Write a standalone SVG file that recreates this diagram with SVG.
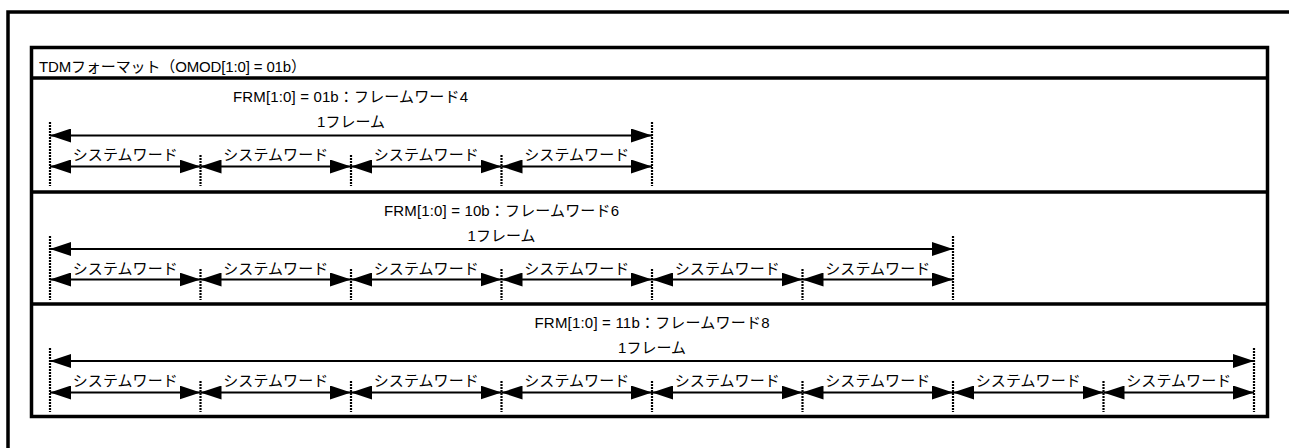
<svg xmlns="http://www.w3.org/2000/svg" width="1289" height="448" viewBox="0 0 1289 448">
<defs>
<style>
text{font-family:"Liberation Sans","Noto Sans CJK JP",sans-serif;font-size:15px;fill:#000}
.frame{fill:none;stroke:#000;stroke-width:3.5}
.sep{stroke:#000;stroke-width:3.5}
.dim{stroke:#000;stroke-width:1.8;marker-start:url(#ah);marker-end:url(#ah)}
.dash{stroke:#000;stroke-width:2.2;stroke-dasharray:2 1}
</style>
<marker id="ah" viewBox="0 0 21 14" refX="21" refY="7" markerWidth="21" markerHeight="14" markerUnits="userSpaceOnUse" orient="auto-start-reverse">
<path d="M0,0 L21,7 L0,14 z" fill="#000"/>
</marker>
</defs>
<rect x="0" y="0" width="1289" height="448" fill="#fff"/>
<g id="outer">
<rect class="frame" x="8" y="12" width="1320" height="500"/>
</g>
<g id="table">
<rect class="frame" x="31.5" y="47.5" width="1236" height="369"/>
<line class="sep" x1="31" y1="78" x2="1268" y2="78"/>
<line class="sep" x1="31" y1="192" x2="1268" y2="192"/>
<line class="sep" x1="31" y1="304" x2="1268" y2="304"/>
</g>
<g id="title">
<text x="39" y="72" textLength="267" lengthAdjust="spacing">TDMフォーマット（OMOD[1:0] = 01b）</text>
</g>
<g id="row1">
<text x="233" y="102" textLength="235" lengthAdjust="spacing">FRM[1:0] = 01b：フレームワード4</text>
<text x="351" y="127" text-anchor="middle">1フレーム</text>
<text x="125.25" y="160" text-anchor="middle" textLength="105" lengthAdjust="spacing">システムワード</text>
<text x="275.75" y="160" text-anchor="middle" textLength="105" lengthAdjust="spacing">システムワード</text>
<text x="426.25" y="160" text-anchor="middle" textLength="105" lengthAdjust="spacing">システムワード</text>
<text x="576.75" y="160" text-anchor="middle" textLength="105" lengthAdjust="spacing">システムワード</text>
<line class="dash" x1="50" y1="122" x2="50" y2="186"/>
<line class="dash" x1="652" y1="122" x2="652" y2="186"/>
<line class="dash" x1="200.5" y1="155" x2="200.5" y2="186"/>
<line class="dash" x1="351" y1="155" x2="351" y2="186"/>
<line class="dash" x1="501.5" y1="155" x2="501.5" y2="186"/>
</g>
<g id="row2">
<text x="501.5" y="216" text-anchor="middle" textLength="235" lengthAdjust="spacing">FRM[1:0] = 10b：フレームワード6</text>
<text x="501.5" y="241" text-anchor="middle">1フレーム</text>
<text x="125.25" y="274" text-anchor="middle" textLength="105" lengthAdjust="spacing">システムワード</text>
<text x="275.75" y="274" text-anchor="middle" textLength="105" lengthAdjust="spacing">システムワード</text>
<text x="426.25" y="274" text-anchor="middle" textLength="105" lengthAdjust="spacing">システムワード</text>
<text x="576.75" y="274" text-anchor="middle" textLength="105" lengthAdjust="spacing">システムワード</text>
<text x="727.25" y="274" text-anchor="middle" textLength="105" lengthAdjust="spacing">システムワード</text>
<text x="877.75" y="274" text-anchor="middle" textLength="105" lengthAdjust="spacing">システムワード</text>
<line class="dash" x1="50" y1="236" x2="50" y2="300"/>
<line class="dash" x1="953" y1="236" x2="953" y2="300"/>
<line class="dash" x1="200.5" y1="269" x2="200.5" y2="300"/>
<line class="dash" x1="351" y1="269" x2="351" y2="300"/>
<line class="dash" x1="501.5" y1="269" x2="501.5" y2="300"/>
<line class="dash" x1="652" y1="269" x2="652" y2="300"/>
<line class="dash" x1="802.5" y1="269" x2="802.5" y2="300"/>
</g>
<g id="row3">
<text x="652" y="328" text-anchor="middle" textLength="235" lengthAdjust="spacing">FRM[1:0] = 11b：フレームワード8</text>
<text x="652" y="353" text-anchor="middle">1フレーム</text>
<text x="125.25" y="386" text-anchor="middle" textLength="105" lengthAdjust="spacing">システムワード</text>
<text x="275.75" y="386" text-anchor="middle" textLength="105" lengthAdjust="spacing">システムワード</text>
<text x="426.25" y="386" text-anchor="middle" textLength="105" lengthAdjust="spacing">システムワード</text>
<text x="576.75" y="386" text-anchor="middle" textLength="105" lengthAdjust="spacing">システムワード</text>
<text x="727.25" y="386" text-anchor="middle" textLength="105" lengthAdjust="spacing">システムワード</text>
<text x="877.75" y="386" text-anchor="middle" textLength="105" lengthAdjust="spacing">システムワード</text>
<text x="1028.25" y="386" text-anchor="middle" textLength="105" lengthAdjust="spacing">システムワード</text>
<text x="1178.75" y="386" text-anchor="middle" textLength="105" lengthAdjust="spacing">システムワード</text>
<line class="dash" x1="50" y1="348" x2="50" y2="412"/>
<line class="dash" x1="1254" y1="348" x2="1254" y2="412"/>
<line class="dash" x1="200.5" y1="381" x2="200.5" y2="412"/>
<line class="dash" x1="351" y1="381" x2="351" y2="412"/>
<line class="dash" x1="501.5" y1="381" x2="501.5" y2="412"/>
<line class="dash" x1="652" y1="381" x2="652" y2="412"/>
<line class="dash" x1="802.5" y1="381" x2="802.5" y2="412"/>
<line class="dash" x1="953" y1="381" x2="953" y2="412"/>
<line class="dash" x1="1103.5" y1="381" x2="1103.5" y2="412"/>
</g>
<g id="connectors">
<line class="dim" x1="50" y1="135.5" x2="652" y2="135.5"/>
<line class="dim" x1="50" y1="166.5" x2="200.5" y2="166.5"/>
<line class="dim" x1="200.5" y1="166.5" x2="351" y2="166.5"/>
<line class="dim" x1="351" y1="166.5" x2="501.5" y2="166.5"/>
<line class="dim" x1="501.5" y1="166.5" x2="652" y2="166.5"/>
<line class="dim" x1="50" y1="249" x2="953" y2="249"/>
<line class="dim" x1="50" y1="279.5" x2="200.5" y2="279.5"/>
<line class="dim" x1="200.5" y1="279.5" x2="351" y2="279.5"/>
<line class="dim" x1="351" y1="279.5" x2="501.5" y2="279.5"/>
<line class="dim" x1="501.5" y1="279.5" x2="652" y2="279.5"/>
<line class="dim" x1="652" y1="279.5" x2="802.5" y2="279.5"/>
<line class="dim" x1="802.5" y1="279.5" x2="953" y2="279.5"/>
<line class="dim" x1="50" y1="361" x2="1254" y2="361"/>
<line class="dim" x1="50" y1="392.5" x2="200.5" y2="392.5"/>
<line class="dim" x1="200.5" y1="392.5" x2="351" y2="392.5"/>
<line class="dim" x1="351" y1="392.5" x2="501.5" y2="392.5"/>
<line class="dim" x1="501.5" y1="392.5" x2="652" y2="392.5"/>
<line class="dim" x1="652" y1="392.5" x2="802.5" y2="392.5"/>
<line class="dim" x1="802.5" y1="392.5" x2="953" y2="392.5"/>
<line class="dim" x1="953" y1="392.5" x2="1103.5" y2="392.5"/>
<line class="dim" x1="1103.5" y1="392.5" x2="1254" y2="392.5"/>
</g>
</svg>
